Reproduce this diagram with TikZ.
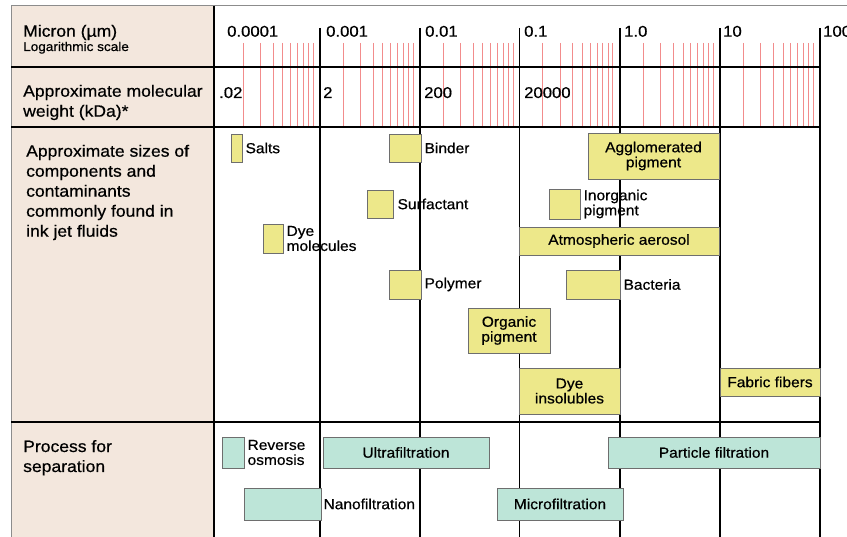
\documentclass[tikz,border=0pt]{standalone}
\usepackage{fontspec}
\setmainfont{Liberation Sans}[FakeStretch=1.07,FakeBold=0.6]
\usetikzlibrary{positioning}
\definecolor{panelbeige}{HTML}{F3E7DD}
\definecolor{compyellow}{HTML}{EDE88A}
\definecolor{procgreen}{HTML}{BDE5D8}
\definecolor{boxgray}{HTML}{6E6E6E}
\definecolor{tickred}{HTML}{F28C8C}
\definecolor{framegray}{HTML}{8C8C8C}
\newcommand{\headfont}{\fontsize{16.4}{20}\selectfont}
\newcommand{\boxfont}{\fontsize{14.5}{15}\selectfont}
\newcommand{\scalefont}{\fontsize{15.6}{18}\selectfont}
\newcommand{\notefont}{\fontsize{12.7}{15}\selectfont}
\tikzset{
    compbox/.style={draw=boxgray,fill=compyellow,line width=0.8pt,inner sep=0pt,align=center,font=\boxfont},
    procbox/.style={draw=boxgray,fill=procgreen,line width=0.8pt,inner sep=0pt,align=center,font=\boxfont},
    boxlabel/.style={inner sep=0pt,align=left,font=\boxfont},
    headtext/.style={anchor=base west,inner sep=0pt,align=left,font=\headfont},
    scaletext/.style={anchor=base west,inner sep=0pt,font=\scalefont},
    decline/.style={line width=1.2pt},
    minortick/.style={draw=tickred,line width=0.8pt},
    frameline/.style={draw=framegray,line width=1pt}
}
\begin{document}
\begin{tikzpicture}[x=1pt,y=-1pt,node distance=3pt]
    \useasboundingbox (0,0) rectangle (847,537);
    \fill[panelbeige] (11,6) rectangle (214,537);
    \foreach \d in {220,320,420,519.5,620,720}
        \foreach \k in {2,...,10}
            \draw[minortick] ({\d+100*log10(\k)-7},43) -- ({\d+100*log10(\k)-7},127);
    \draw[frameline] (847,6) -- (11,6) -- (11,537);
    \foreach \y in {67,127,422}
        \draw[decline] (11,\y) -- (820,\y);
    \draw[decline] (214,6) -- (214,537);
    \foreach \x in {320,420,519.5,620,720,820}
        \draw[decline] (\x,28) -- (\x,537);

    \node[headtext] (micron) at (23,36.7) {Micron (µm)};
    \node[anchor=base west,inner sep=0pt,font=\notefont] (logscale) at (23,51) {Logarithmic scale};
    \node[headtext] (molwt) at (23,116.7) {Approximate molecular\\weight (kDa)*};
    \node[headtext] (sizes) at (26,236.7) {Approximate sizes of\\components and\\contaminants\\commonly found in\\ink jet fluids};
    \node[headtext] (process) at (23,472) {Process for\\separation};

    \foreach \x/\t [count=\i] in {227/0.0001,326/0.001,425/0.01,524/0.1,624/1.0,723/10,823/100}
        \node[scaletext] (mu\i) at (\x,36.7) {\t};
    \foreach \x/\t [count=\i] in {219/.02,323/2,424/200,524/20000}
        \node[scaletext] (kda\i) at (\x,98) {\t};

    \node[compbox,minimum width=11pt,minimum height=28pt] (salts) at (236.5,148) {};
    \node[boxlabel,right=of salts] (saltslbl) {Salts};
    \node[compbox,minimum width=32pt,minimum height=28pt] (binder) at (405,148) {};
    \node[boxlabel,right=of binder] (binderlbl) {Binder};
    \node[compbox,minimum width=26pt,minimum height=28pt] (surf) at (380,204) {};
    \node[boxlabel,right=4pt of surf] (surflbl) {Surfactant};
    \node[compbox,minimum width=20pt,minimum height=29pt] (dyemol) at (273,238.5) {};
    \node[boxlabel,right=of dyemol] (dyemollbl) {Dye\\molecules};
    \node[compbox,minimum width=32pt,minimum height=29pt] (polymer) at (405,284.5) {};
    \node[boxlabel,right=of polymer] (polymerlbl) {Polymer};
    \node[compbox,minimum width=54pt,minimum height=29pt] (bact) at (593,284.5) {};
    \node[boxlabel,right=of bact] (bactlbl) {Bacteria};
    \node[compbox,minimum width=31pt,minimum height=30pt] (inorg) at (564.5,204) {};
    \node[boxlabel,right=of inorg] (inorglbl) {Inorganic\\pigment};
    \node[compbox,minimum width=131pt,minimum height=46pt] (agglo) at (653.5,156) {Agglomerated\\pigment};
    \node[compbox,minimum width=200pt,minimum height=28pt] (aerosol) at (619,241) {Atmospheric aerosol};
    \node[compbox,minimum width=82pt,minimum height=45pt] (orgpig) at (509,330.5) {Organic\\pigment};
    \node[compbox,minimum width=101pt,minimum height=46pt] (dyeins) at (569.5,391) {Dye\\insolubles};
    \node[compbox,minimum width=100pt,minimum height=28pt] (fibers) at (770,382) {Fabric fibers};

    \node[procbox,minimum width=22pt,minimum height=31pt] (revosm) at (233,452.5) {};
    \node[boxlabel,right=of revosm] (revosmlbl) {Reverse\\osmosis};
    \node[procbox,minimum width=166pt,minimum height=31pt] (ultra) at (406,452.5) {Ultrafiltration};
    \node[procbox,minimum width=77pt,minimum height=32pt] (nano) at (282.5,504) {};
    \node[boxlabel,right=2pt of nano] (nanolbl) {Nanofiltration};
    \node[procbox,minimum width=126pt,minimum height=32pt] (micro) at (560,504) {Microfiltration};
    \node[procbox,minimum width=212pt,minimum height=31pt] (particle) at (714,452.5) {Particle filtration};
\end{tikzpicture}
\end{document}
